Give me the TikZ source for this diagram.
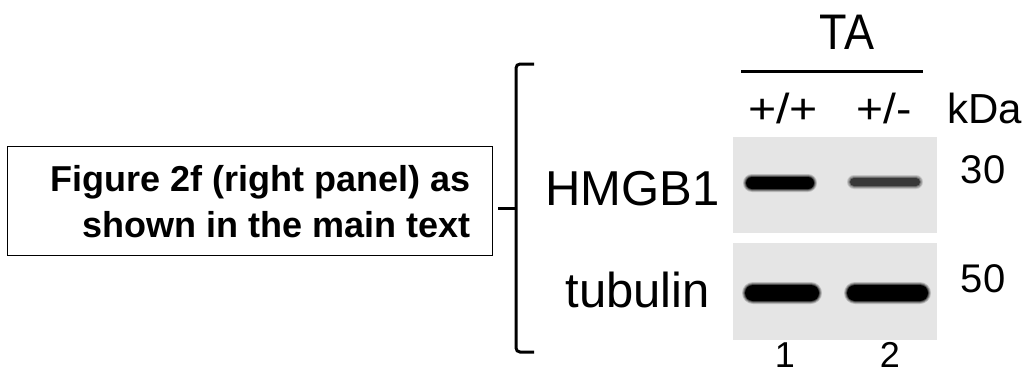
\documentclass[tikz,border=0pt]{standalone}
\usepackage{fontspec}
\setmainfont{Liberation Sans}
\newcommand\setsz[1]{\fontsize{#1}{#1}\selectfont}
% soft-edged band: #1 colour, #2 left, #3 right, #4 centre y, #5 half height
\newcommand\gelband[5]{%
  \foreach \g/\op in {3/0.18,2/0.28,1/0.45}{%
    \fill[#1, opacity=\op, rounded corners={#5pt+\g pt}]
      (#2-\g,#4-#5-\g) rectangle (#3+\g,#4+#5+\g);}
  \fill[#1, rounded corners={#5pt}] (#2,#4-#5) rectangle (#3,#4+#5);}
\begin{document}
\begin{tikzpicture}[x=1pt,y=-1pt,
  lbl/.style={inner sep=0pt, anchor=base},
  gelbg/.style={fill=black!10},
  brk/.style={line width=3pt, line cap=butt}]
\useasboundingbox (0,0) rectangle (1031,375);

% boxed caption on the left
\node[draw, line width=1.4pt, minimum width=485pt, minimum height=109pt,
      anchor=north west, inner sep=0pt] (note) at (7,146) {};
\node[lbl, anchor=base east, font=\setsz{36}\bfseries] (cap1) at (471,191) {Figure 2f (right panel) as};
\node[lbl, anchor=base east, font=\setsz{36}\bfseries] (cap2) at (471,237) {shown in the main text};

% bracket grouping the blot
\coordinate (btop) at (516,64);
\coordinate (bbot) at (516,352);
\coordinate (bmid) at (516,208);
\draw[brk, rounded corners=4pt] (534,64) -- (btop) -- (bbot) -- (534,352);
\draw[brk] ([xshift=5pt]note.east |- bmid) -- (bmid);

% header
\node[lbl, font=\setsz{50}, xscale=0.9] (ta) at (847,49) {TA};
\coordinate (rulel) at (741,71);
\coordinate (ruler) at (923,71);
\draw[line width=3pt] (rulel) -- (ruler);
\node[lbl, font=\setsz{42}, xscale=1.15] (wt) at (783,123) {+/+};
\node[lbl, font=\setsz{42}, xscale=1.1] (het) at (884,123) {+/-};
\node[lbl, anchor=base west, font=\setsz{42}] (kda) at (947,123) {kDa};

% row labels
\node[lbl, anchor=base east, font=\setsz{49}] (hmgb) at (720,205) {HMGB1};
\node[lbl, anchor=base east, font=\setsz{49}] (tub) at (710,307) {tubulin};
\node[lbl, font=\setsz{40}] (m30) at (983,183) {30};
\node[lbl, font=\setsz{40}] (m50) at (983,292) {50};

% gel strips
\fill[gelbg] (733,137) rectangle (937,233);
\fill[gelbg] (733,243) rectangle (937,340);

% HMGB1 bands
\gelband{black}{746}{814}{183}{6}
\gelband{black!78}{850}{920}{182}{4}

% tubulin bands
\gelband{black}{745}{819}{293}{8}
\gelband{black}{847}{928}{293}{8}

% lane numbers
\node[lbl, font=\setsz{36}] (lane1) at (785,367) {1};
\node[lbl, font=\setsz{36}] (lane2) at (890,367) {2};
\end{tikzpicture}
\end{document}
